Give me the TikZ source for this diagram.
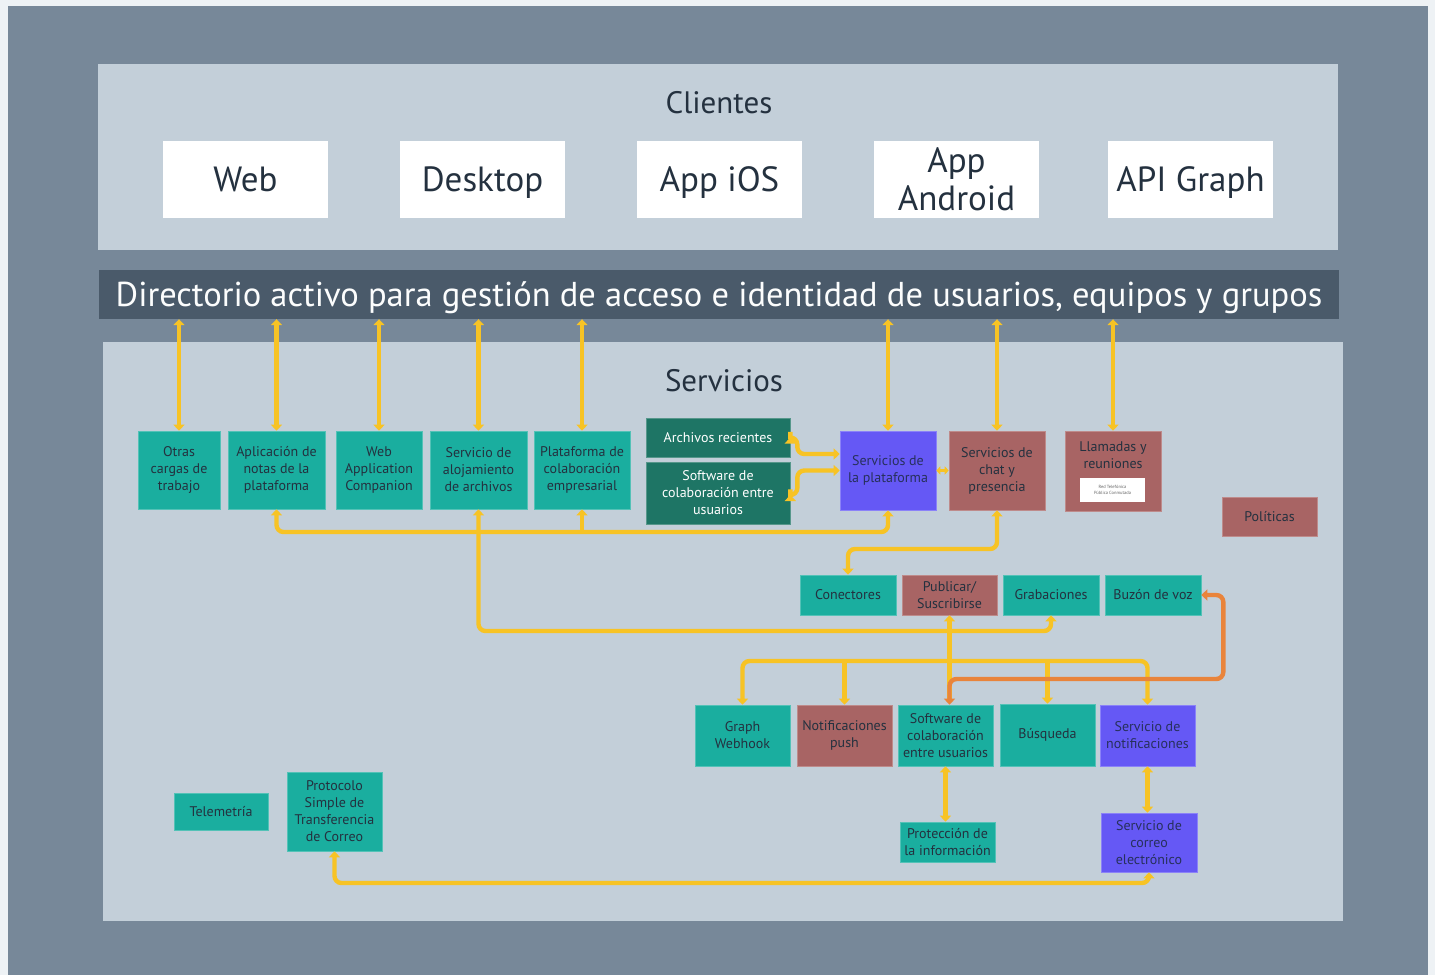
\documentclass[tikz,border=0pt]{standalone}
\usepackage{fontspec}
\setmainfont{PT Sans}
\usetikzlibrary{arrows.meta}

\definecolor{pagebg}{HTML}{EEF2F5}
\definecolor{frame}{HTML}{778899}
\definecolor{panel}{HTML}{C3CFD9}
\definecolor{dirbar}{HTML}{4A5A6A}
\definecolor{tealc}{HTML}{1AAE9F}
\definecolor{darkg}{HTML}{1E7565}
\definecolor{purp}{HTML}{6558F5}
\definecolor{brownc}{HTML}{A86464}
\definecolor{ylw}{HTML}{F7C325}
\definecolor{orng}{HTML}{E9843B}
\definecolor{ink}{HTML}{24313F}
\definecolor{purpink}{HTML}{27305C}

\begin{document}
\begin{tikzpicture}[x=1pt,y=-1pt,
  >={Triangle[width=11pt,length=6pt]},
  svc/.style={minimum width=96pt, minimum height=40pt, inner sep=1pt, align=center,
              font=\fontsize{14}{17}\selectfont, text=ink, line width=0.6pt},
  tealbox/.style={svc, fill=tealc, draw=tealc!75!white},
  darkbox/.style={svc, fill=darkg, draw=darkg!75!white, text=white},
  purpbox/.style={svc, fill=purp, draw=purp!75!white, text=purpink},
  brownbox/.style={svc, fill=brownc, draw=brownc!75!white, text=ink},
  clientbox/.style={fill=white, minimum width=165pt, minimum height=77pt, inner sep=0pt,
              align=center, text=ink, font=\fontsize{35}{38}\selectfont},
  paneltitle/.style={text=ink, font=\fontsize{31}{36}\selectfont, inner sep=0pt},
  flow/.style={draw=ylw, line width=4.4pt, rounded corners=7pt},
  oflow/.style={draw=orng, line width=4.4pt, rounded corners=7pt},
]
\useasboundingbox (0,0) rectangle (1435,975);

% page, frame and panels
\fill[pagebg] (0,0) rectangle (1435,975);
\fill[frame] (8,6) rectangle (1428,975);
\fill[panel] (98,64) rectangle (1338,250);
\fill[panel] (103,342) rectangle (1343,921);

% clients
\node[paneltitle] (cltitle) at (719,103) {Clientes};
\node[clientbox, text depth=0pt] (web)  at (245.5,179.5) {Web};
\node[clientbox, text depth=0pt] (desk) at (482.5,179.5) {Desktop};
\node[clientbox, text depth=0pt] (ios)  at (719.5,179.5) {App iOS};
\node[clientbox] (andr) at (956.5,179.5) {App\\Android};
\node[clientbox, text depth=0pt] (api)  at (1190.5,179.5) {API Graph};

% directory bar
\node[fill=dirbar, minimum width=1240pt, minimum height=49pt, inner sep=0pt, text depth=0pt,
      text=white!95!panel, font=\fontsize{34.5}{38}\selectfont] (dir) at (719,294.5)
  {Directorio activo para gestión de acceso e identidad de usuarios, equipos y grupos};

% services
\node[paneltitle] (svtitle) at (724,381) {Servicios};

\node[tealbox, minimum width=82pt, minimum height=78pt] (otras) at (179,470) {Otras\\cargas de\\trabajo};
\node[tealbox, minimum width=97pt, minimum height=78pt] (aplic) at (276.5,470) {Aplicación de\\notas de la\\plataforma};
\node[tealbox, minimum width=86pt, minimum height=78pt] (wac)   at (379,470) {Web\\Application\\Companion};
\node[tealbox, minimum width=97pt, minimum height=78pt] (aloj)  at (478.5,470) {Servicio de\\alojamiento\\de archivos};
\node[tealbox, minimum width=96pt, minimum height=78pt] (plc)   at (582,470) {Plataforma de\\colaboración\\empresarial};

\node[darkbox, minimum width=144pt, minimum height=39pt] (arch) at (718,437.5) {Archivos recientes};
\node[darkbox, minimum width=144pt, minimum height=62pt] (swc)  at (718,493) {Software de\\colaboración entre\\usuarios};

\node[purpbox, minimum height=79pt] (plat) at (888,470.5) {Servicios de\\la plataforma};
\node[brownbox, minimum height=79pt] (chat) at (997,470.5) {Servicios de\\chat y\\presencia};
\node[brownbox, minimum height=80pt] (llam) at (1113,471) {};
\node[svc, text=ink, inner sep=0pt] (llamtxt) at (1113,455) {Llamadas y\\reuniones};
\node[fill=white, minimum width=65pt, minimum height=24pt, inner sep=0pt, align=center,
      text=black!60, font=\fontsize{4.5}{6}\selectfont] (pstn) at (1112.5,490)
  {Red Telefónica\\Pública Conmutada};
\node[brownbox, minimum width=95pt, minimum height=39pt] (pol) at (1269.5,516.5) {Políticas};

\node[tealbox] (con)  at (848,595) {Conectores};
\node[brownbox, minimum width=95pt] (publ) at (949.5,595) {Publicar/\\Suscribirse};
\node[tealbox] (grab) at (1051,595) {Grabaciones};
\node[tealbox] (buz)  at (1153,595) {Buzón de voz};

\node[tealbox, minimum width=95pt, minimum height=61pt] (gw)   at (742.5,735.5) {Graph\\Webhook};
\node[brownbox, minimum width=95pt, minimum height=61pt] (push) at (844.5,735.5) {Notificaciones\\push};
\node[tealbox, minimum width=95pt, minimum height=61pt] (sw2)  at (945.5,735.5) {Software de\\colaboración\\entre usuarios};
\node[tealbox, minimum width=95pt, minimum height=62pt] (busq) at (1047.5,735) {Búsqueda};
\node[purpbox, minimum width=95pt, minimum height=61pt] (sn)   at (1147.5,735.5) {Servicio de\\notificaciones};

\node[tealbox, minimum width=95pt, minimum height=40pt] (prot)   at (947.5,842) {Protección de\\la información};
\node[purpbox, minimum width=96pt, minimum height=59pt] (correo) at (1149,842.5) {Servicio de\\correo\\electrónico};
\node[tealbox, minimum width=94pt, minimum height=37pt] (tele)   at (221,811.5) {Telemetría};
\node[tealbox, minimum width=95pt, minimum height=79pt] (smtp)   at (334.5,811.5) {Protocolo\\Simple de\\Transferencia\\de Correo};

% links to the directory
\foreach \n in {otras,aplic,wac,aloj,plc,plat,chat,llam}
  \draw[flow,<->] (\n.north |- dir.south) -- (\n.north);

% bus under the first row
\draw[flow,<->] (aplic.south) -- (aplic.south |- 0,532) -- (plat.south |- 0,532) -- (plat.south);
\draw[flow,->] (plc.south |- 0,532) -- (plc.south);

% file hosting to recordings and publish/subscribe
\draw[flow,<->] (aloj.south) -- (aloj.south |- 0,631) -- (grab.south |- 0,631) -- (grab.south);
\draw[flow,<-] (publ.south) -- (publ.south |- 0,700);

% bus above the third row
\draw[flow,<->] (gw.north) -- (gw.north |- 0,661) -- (sn.north |- 0,661) -- (sn.north);
\draw[flow,->] (push.north |- 0,661) -- (push.north);
\draw[flow,->] (busq.north |- 0,661) -- (busq.north);

% chat to connectors
\draw[flow,<->] (chat.south) -- (chat.south |- 0,549) -- (con.north |- 0,549) -- (con.north);

% recent files and collaboration software to platform services
\draw[flow,<->] (arch.east) -- ++(7,0) |- (plat.west |- 0,454);
\draw[flow,<->] (swc.east |- 0,495) -- ++(7,0) |- (plat.west);
\draw[flow,line width=3pt,{Triangle[width=8pt,length=4pt]}-{Triangle[width=8pt,length=4pt]}]
  (plat.east) -- (chat.west);

% voicemail to collaboration software
\draw[oflow,<->] (buz.east) -- ++(22,0) |- (publ.south |- 0,679) -- (publ.south |- sw2.north);

% lower links
\draw[flow,<->] (sw2.south) -- (sw2.south |- prot.north);
\draw[flow,<->] (sn.south) -- (sn.south |- correo.north);
\draw[flow,<->] (smtp.south) -- (smtp.south |- 0,883) -- (correo.south |- 0,883) -- (correo.south);
\end{tikzpicture}
\end{document}
